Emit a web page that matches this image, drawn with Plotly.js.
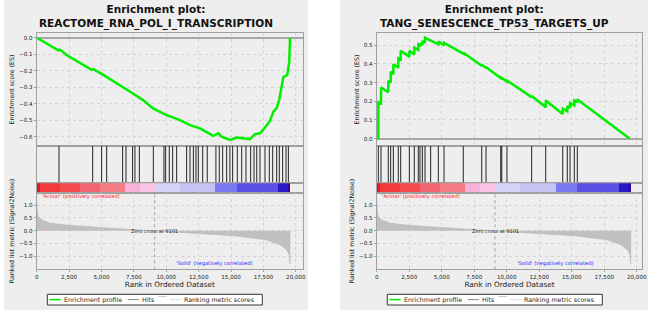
<!DOCTYPE html>
<html><head><meta charset="utf-8">
<script src="https://cdn.plot.ly/plotly-3.0.1.min.js"></script>
<style>html,body{margin:0;padding:0;background:#fff}#chart{width:650px;height:310px}</style>
</head><body><div id="chart"></div>
<script>
// ---------------- DATA ----------------
const titleLeft = 'REACTOME_RNA_POL_I_TRANSCRIPTION';
const titleRight = 'TANG_SENESCENCE_TP53_TARGETS_UP';

// running enrichment score, left gene set
const esRankLeft  = [0, 1670, 1800, 2310, 4240, 4370, 5140, 5660, 6690, 7460, 8230, 9000, 10030, 11060, 11830, 12600, 13630, 14010, 14270, 14920, 15430, 15950, 16460, 16850, 17230, 17620, 18000, 18260, 18520, 18720, 19030, 19340, 19490, 19550];
const esValueLeft = [0, -0.077, -0.072, -0.105, -0.195, -0.19, -0.225, -0.25, -0.30, -0.34, -0.38, -0.43, -0.47, -0.50, -0.53, -0.55, -0.595, -0.58, -0.60, -0.62, -0.605, -0.61, -0.615, -0.585, -0.58, -0.545, -0.505, -0.45, -0.425, -0.375, -0.24, -0.225, -0.145, 0];
const hitsLeft = [1720, 4320, 5010, 5400, 6630, 6890, 7400, 7580, 7920, 9000, 9820, 9950, 10230, 10490, 10800, 11570, 11830, 12090, 12290, 12470, 12810, 13160, 13830, 14090, 14350, 14660, 14910, 15120, 15480, 15820, 16150, 16510, 16770, 16980, 17230, 17620, 17950, 18210, 18520, 18720, 18980, 19240, 19420];

// running enrichment score, right gene set
const esRankRight  = [0, 125, 128, 330, 335, 890, 895, 1075, 1080, 1280, 1285, 1660, 1665, 1845, 1850, 2510, 2515, 2890, 2895, 3200, 3205, 3330, 3335, 3510, 3515, 3715, 3720, 4740, 4745, 5180, 5185, 6660, 6665, 8080, 8085, 8410, 8415, 9540, 9545, 10020, 10025, 11920, 11925, 13000, 13005, 14310, 14315, 14660, 14665, 14870, 14875, 15200, 15205, 15430, 15435, 19450];
const esValueRight = [0, 0, 0.195, 0.19, 0.274, 0.248, 0.31, 0.30, 0.358, 0.345, 0.398, 0.38, 0.43, 0.425, 0.47, 0.438, 0.47, 0.45, 0.487, 0.475, 0.505, 0.50, 0.51, 0.50, 0.523, 0.514, 0.54, 0.505, 0.52, 0.50, 0.513, 0.455, 0.46, 0.39, 0.395, 0.378, 0.382, 0.325, 0.328, 0.306, 0.31, 0.222, 0.228, 0.168, 0.204, 0.132, 0.16, 0.146, 0.175, 0.165, 0.19, 0.178, 0.205, 0.198, 0.21, 0];
const hitsRight = [125, 330, 890, 1075, 1280, 1660, 1845, 2510, 2890, 3200, 3330, 3510, 3715, 4150, 4740, 5180, 6660, 8080, 8410, 9540, 9620, 10020, 11920, 13000, 14310, 14660, 14870, 15200, 15430];

// ranked list metric (Signal2Noise), shared dataset
const metricRank  = [0, 20, 60, 150, 400, 1000, 2300, 4900, 6900, 9101, 12600, 15200, 17700, 18800, 19300, 19480, 19540, 19550];
const metricValue = [1.2, 0.9, 0.7, 0.55, 0.42, 0.3, 0.22, 0.13, 0.07, 0, -0.1, -0.2, -0.36, -0.56, -0.76, -0.95, -1.3, 0];
const zeroCross = 9101;

// colour bar blocks (rank edges and colours)
const barEdges  = [0, 255, 1800, 3340, 4880, 6810, 7970, 9130, 11060, 13760, 15430, 18640, 19410, 19550];
const barColors = ['#dc1c2c', '#f23a3a', '#f44c4c', '#f26472', '#f47c84', '#f6b2da', '#fac4e4', '#d4d4f8', '#c6c2f2', '#7a78f0', '#5a50e4', '#2a18c4', '#3a0098'];

const xTicks = [0, 2500, 5000, 7500, 10000, 12500, 15000, 17500, 20000];
const esTicksLeft = [0, -0.1, -0.2, -0.3, -0.4, -0.5, -0.6];
const esTicksRight = [0, 0.1, 0.2, 0.3, 0.4, 0.5];
const metricTicks = [1, 0.5, 0, -0.5, -1];

// ---------------- LAYOUT HELPERS ----------------
const W = 650, H = 310;
const fx = px => px / W;
const fy = py => (H - py) / H;
const FONT = 'DejaVu Sans, sans-serif';
const GRID = '#d4d4d4', LINE = '#a0a0a0';

const panels = [
  {k: 0, x0: 36.7, x1: 303, xmax: 20550, esRange: [-0.655, 0.027], esTicks: esTicksLeft,
   esX: esRankLeft, esY: esValueLeft, hits: hitsLeft, title: titleLeft, bg: [4, 308], legendLeft: 47.3},
  {k: 4, x0: 376.7, x1: 642.3, xmax: 20430, esRange: [-0.038, 0.564], esTicks: esTicksRight,
   esX: esRankRight, esY: esValueRight, hits: hitsRight, title: titleRight, bg: [340, 648], legendLeft: 387.3}
];

const Y_ES = [33.3, 145.7], Y_HITS = [145.7, 183.3], Y_BAR = [183.3, 192.7], Y_RANK = [192.7, 269.3];

const traces = [];
const layout = {
  width: W, height: H, margin: {l: 0, r: 0, t: 0, b: 0},
  paper_bgcolor: '#ffffff', plot_bgcolor: '#ffffff', showlegend: false,
  font: {family: FONT, color: '#333333', size: 6},
  shapes: [], annotations: [], barmode: 'overlay', bargap: 0
};

function axName(i) { return i === 1 ? '' : String(i); }

panels.forEach(p => {
  const iES = p.k + 1, iHit = p.k + 2, iBar = p.k + 3, iRank = p.k + 4;
  const dom = [fx(p.x0), fx(p.x1)];
  const baseX = {domain: dom, range: [0, p.xmax], showline: true, mirror: true, linecolor: LINE, linewidth: 1,
                 zeroline: false, fixedrange: true};
  layout['xaxis' + axName(iES)] = Object.assign({}, baseX, {anchor: 'y' + axName(iES), tickvals: xTicks,
      showticklabels: false, ticks: '', showgrid: true, gridcolor: GRID, griddash: 'dot'});
  layout['xaxis' + axName(iHit)] = Object.assign({}, baseX, {anchor: 'y' + axName(iHit), showticklabels: false, ticks: '', showgrid: false});
  layout['xaxis' + axName(iBar)] = Object.assign({}, baseX, {anchor: 'y' + axName(iBar), showticklabels: false, ticks: '', showgrid: false});
  layout['xaxis' + axName(iRank)] = Object.assign({}, baseX, {anchor: 'y' + axName(iRank), tickvals: xTicks,
      tickformat: ',d', ticks: 'outside', ticklen: 2, tickcolor: LINE, tickfont: {size: 5.6, color: '#222'},
      showgrid: true, gridcolor: GRID, griddash: 'dot',
      title: {text: 'Rank in Ordered Dataset', font: {size: 7.3, color: '#222'}, standoff: 2}});
  const baseY = {showline: true, mirror: true, linecolor: LINE, linewidth: 1, fixedrange: true};
  layout['yaxis' + axName(iES)] = Object.assign({}, baseY, {anchor: 'x' + axName(iES),
      domain: [fy(Y_ES[1]), fy(Y_ES[0])], range: p.esRange, tickvals: p.esTicks, tickformat: '.1f',
      ticks: 'outside', ticklen: 2, tickcolor: LINE, tickfont: {size: 5.6, color: '#222'},
      showgrid: true, gridcolor: GRID, griddash: 'dot', zeroline: true, zerolinecolor: '#a8a8a8', zerolinewidth: 2,
      title: {text: 'Enrichment score (ES)', font: {size: 6.3, color: '#222'}, standoff: 3}});
  layout['yaxis' + axName(iHit)] = Object.assign({}, baseY, {anchor: 'x' + axName(iHit),
      domain: [fy(Y_HITS[1]), fy(Y_HITS[0])], range: [0, 1], showticklabels: false, ticks: '', showgrid: false, zeroline: false});
  layout['yaxis' + axName(iBar)] = Object.assign({}, baseY, {anchor: 'x' + axName(iBar),
      domain: [fy(Y_BAR[1]), fy(Y_BAR[0])], range: [0, 1], showticklabels: false, ticks: '', showgrid: false, zeroline: false});
  layout['yaxis' + axName(iRank)] = Object.assign({}, baseY, {anchor: 'x' + axName(iRank),
      domain: [fy(Y_RANK[1]), fy(Y_RANK[0])], range: [-1.514, 1.49], tickvals: metricTicks, tickformat: '.1f',
      ticks: 'outside', ticklen: 2, tickcolor: LINE, tickfont: {size: 5.6, color: '#222'},
      showgrid: true, gridcolor: GRID, griddash: 'dot', zeroline: false,
      title: {text: 'Ranked list metric (Signal2Noise)', font: {size: 6.3, color: '#222'}, standoff: 3}});

  traces.push({type: 'scatter', mode: 'lines', x: metricRank, y: metricValue, fill: 'tozeroy',
    fillcolor: '#c0c0c0', line: {color: '#b4b4b4', width: 0.5},
    xaxis: 'x' + axName(iRank), yaxis: 'y' + axName(iRank), hoverinfo: 'skip'});
  const hx = [], hy = [];
  p.hits.forEach(h => { hx.push(h, h, null); hy.push(0, 1, null); });
  traces.push({type: 'scatter', mode: 'lines', x: hx, y: hy, line: {color: 'rgba(0,0,0,0.85)', width: 1},
    xaxis: 'x' + axName(iHit), yaxis: 'y' + axName(iHit), hoverinfo: 'skip'});
  const bx = [], bw = [], by = [];
  for (let i = 0; i < barColors.length; i++) {
    bx.push((barEdges[i] + barEdges[i + 1]) / 2); bw.push(barEdges[i + 1] - barEdges[i]); by.push(1);
  }
  traces.push({type: 'bar', x: bx, y: by, width: bw, base: 0, marker: {color: barColors, line: {width: 0}},
    xaxis: 'x' + axName(iBar), yaxis: 'y' + axName(iBar), hoverinfo: 'skip'});
  traces.push({type: 'scatter', mode: 'lines', x: p.esX, y: p.esY, line: {color: '#00ee00', width: 2.5},
    xaxis: 'x' + axName(iES), yaxis: 'y' + axName(iES), hoverinfo: 'skip'});

  layout.shapes.push({type: 'rect', xref: 'paper', yref: 'paper', x0: fx(p.bg[0]), x1: fx(p.bg[1]), y0: 0, y1: 1,
    fillcolor: '#eeeeee', line: {width: 0}, layer: 'below'});
  layout.shapes.push({type: 'line', xref: 'x' + axName(iRank), yref: 'y' + axName(iRank) + ' domain',
    x0: zeroCross, x1: zeroCross, y0: 0, y1: 1, line: {color: '#a0a0a0', width: 1, dash: 'dot'}});

  const cx = (p.bg[0] + p.bg[1]) / 2;
  layout.annotations.push({xref: 'paper', yref: 'paper', x: fx(cx), y: fy(16.5), xanchor: 'center', yanchor: 'middle',
    text: '<b>Enrichment plot:</b><br><b>' + p.title + '</b>', showarrow: false,
    font: {family: FONT, size: 10.5, color: '#111'}});
  layout.annotations.push({xref: 'x' + axName(iRank), yref: 'y' + axName(iRank), x: 250, y: 1.33,
    xanchor: 'left', yanchor: 'middle', text: "'Acinar' (positively correlated)", showarrow: false,
    font: {size: 5.2, color: '#ff1a1a'}});
  layout.annotations.push({xref: 'x' + axName(iRank), yref: 'y' + axName(iRank), x: 16800, y: -1.28,
    xanchor: 'right', yanchor: 'middle', text: "'Solid' (negatively correlated)", showarrow: false,
    font: {size: 5.2, color: '#2a2aff'}});
  layout.annotations.push({xref: 'x' + axName(iRank), yref: 'y' + axName(iRank), x: zeroCross, y: 0,
    xanchor: 'center', yanchor: 'middle', text: 'Zero cross at ' + zeroCross, showarrow: false,
    font: {size: 5, color: '#222'}});

  const L = p.legendLeft;
  layout.shapes.push({type: 'rect', xref: 'paper', yref: 'paper', x0: fx(L), x1: fx(L + 215), y0: fy(305), y1: fy(294.3),
    fillcolor: '#ffffff', line: {color: '#333', width: 1}});
  const items = [
    {x: L + 2, t: 'Enrichment profile', c: '#00ee00', w: 1.5},
    {x: L + 80.4, t: 'Hits', c: '#888888', w: 1},
    {x: L + 122.7, t: 'Ranking metric scores', c: '#dddddd', w: 1}
  ];
  items.forEach(it => {
    layout.shapes.push({type: 'line', xref: 'paper', yref: 'paper', x0: fx(it.x), x1: fx(it.x + 11.4), y0: fy(299.6), y1: fy(299.6),
      line: {color: it.c, width: it.w}});
    layout.annotations.push({xref: 'paper', yref: 'paper', x: fx(it.x + 12.2), y: fy(299.6), xanchor: 'left', yanchor: 'middle',
      text: it.t, showarrow: false, font: {size: 6.3, color: '#222'}});
  });
  layout.shapes.push({type: 'line', xref: 'paper', yref: 'paper', x0: fx(L + 111), x1: fx(L + 119.5), y0: fy(296.5), y1: fy(296.5),
    line: {color: '#cccccc', width: 1}});
});

Plotly.newPlot('chart', traces, layout, {staticPlot: true, displayModeBar: false});
</script></body></html>
